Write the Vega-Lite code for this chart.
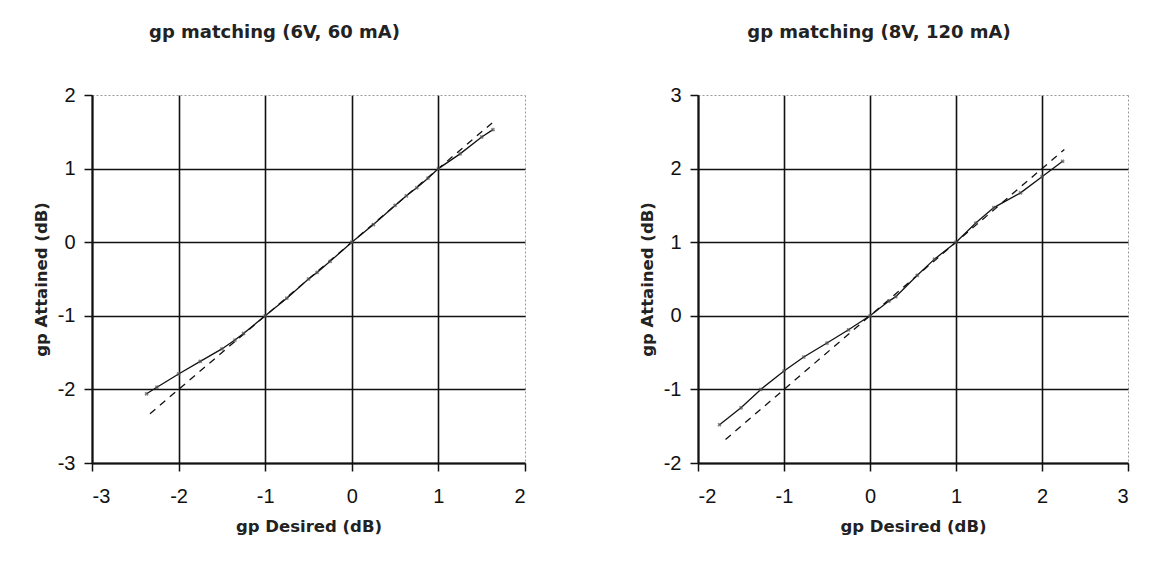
{
  "$schema": "https://vega.github.io/schema/vega-lite/v6.json",
  "padding": {"left": 33, "top": 24, "right": 5, "bottom": 5},
  "background": "white",
  "spacing": 173,
  "bounds": "flush",
  "config": {
    "view": {"stroke": null},
    "axis": {
      "labelFont": "Liberation Sans", "labelFontSize": 20, "labelColor": "#111",
      "labelExpr": "datum.value + ''",
      "titleFont": "DejaVu Sans", "titleFontSize": 16.5, "titleFontWeight": "bold", "titleColor": "#222",
      "domainColor": "#111", "domainWidth": 2, "tickColor": "#111", "tickWidth": 1.5, "tickSize": 8
    },
    "axisX": {"labelPadding": 15, "titlePadding": 12},
    "axisY": {"labelPadding": 9, "titlePadding": 8},
    "title": {"font": "DejaVu Sans", "fontSize": 18, "fontWeight": "bold", "color": "#222", "frame": "group", "anchor": "middle", "dx": -34, "offset": 43, "baseline": "alphabetic"}
  },
  "datasets": {
    "ideal6": [{"desired": -2.33, "attained": -2.33}, {"desired": 1.65, "attained": 1.65}],
    "meas6": [
      {"desired": -2.37, "attained": -2.06}, {"desired": -2.25, "attained": -1.97}, {"desired": -2.0, "attained": -1.79},
      {"desired": -1.75, "attained": -1.62}, {"desired": -1.5, "attained": -1.45}, {"desired": -1.35, "attained": -1.33},
      {"desired": -1.25, "attained": -1.24}, {"desired": -1.0, "attained": -1.0}, {"desired": -0.75, "attained": -0.76},
      {"desired": -0.5, "attained": -0.5}, {"desired": -0.4, "attained": -0.41}, {"desired": -0.25, "attained": -0.26},
      {"desired": 0.0, "attained": 0.0}, {"desired": 0.25, "attained": 0.24}, {"desired": 0.5, "attained": 0.5},
      {"desired": 0.63, "attained": 0.63}, {"desired": 0.75, "attained": 0.74}, {"desired": 0.88, "attained": 0.87},
      {"desired": 1.0, "attained": 1.0}, {"desired": 1.25, "attained": 1.2}, {"desired": 1.5, "attained": 1.43},
      {"desired": 1.63, "attained": 1.53}
    ],
    "ideal8": [{"desired": -1.68, "attained": -1.68}, {"desired": 2.26, "attained": 2.26}],
    "meas8": [
      {"desired": -1.75, "attained": -1.48}, {"desired": -1.5, "attained": -1.25}, {"desired": -1.27, "attained": -1.0},
      {"desired": -1.0, "attained": -0.75}, {"desired": -0.77, "attained": -0.56}, {"desired": -0.5, "attained": -0.37},
      {"desired": -0.25, "attained": -0.19}, {"desired": 0.0, "attained": 0.0}, {"desired": 0.22, "attained": 0.2},
      {"desired": 0.3, "attained": 0.26}, {"desired": 0.55, "attained": 0.55}, {"desired": 0.75, "attained": 0.77},
      {"desired": 1.0, "attained": 1.0}, {"desired": 1.23, "attained": 1.26}, {"desired": 1.44, "attained": 1.47},
      {"desired": 1.75, "attained": 1.67}, {"desired": 2.0, "attained": 1.89}, {"desired": 2.24, "attained": 2.1}
    ]
  },
  "hconcat": [
    {
      "width": 433, "height": 368,
      "title": {"text": "gp matching (6V, 60 mA)"},
      "layer": [
        {
          "data": {"name": "ideal6"},
          "mark": {"type": "line", "color": "#111", "strokeWidth": 1.3, "strokeDash": [7, 6]},
          "encoding": {
            "x": {"field": "desired", "type": "quantitative", "scale": {"domain": [-3, 2], "nice": false, "zero": false},
              "axis": {"title": "gp Desired (dB)", "values": [-3, -2, -1, 0, 1, 2], "grid": true,
                "gridColor": {"condition": {"test": "datum.value == 2", "value": "#999"}, "value": "#111"},
                "gridDash": {"condition": {"test": "datum.value == 2", "value": [2, 2]}, "value": []},
                "gridWidth": {"condition": {"test": "datum.value == 2", "value": 1}, "value": 1.6}}},
            "y": {"field": "attained", "type": "quantitative", "scale": {"domain": [-3, 2], "nice": false, "zero": false},
              "axis": {"title": "gp Attained (dB)", "values": [-3, -2, -1, 0, 1, 2], "grid": true,
                "gridColor": {"condition": {"test": "datum.value == 2", "value": "#999"}, "value": "#111"},
                "gridDash": {"condition": {"test": "datum.value == 2", "value": [2, 2]}, "value": []},
                "gridWidth": {"condition": {"test": "datum.value == 2", "value": 1}, "value": 1.6}}}
          }
        },
        {
          "data": {"name": "meas6"},
          "mark": {"type": "line", "color": "#111", "strokeWidth": 1.3},
          "encoding": {
            "x": {"field": "desired", "type": "quantitative"},
            "y": {"field": "attained", "type": "quantitative"}
          }
        },
        {
          "data": {"name": "meas6"},
          "mark": {"type": "point", "shape": "cross", "angle": 45, "size": 18, "color": "#555", "filled": true},
          "encoding": {
            "x": {"field": "desired", "type": "quantitative"},
            "y": {"field": "attained", "type": "quantitative"}
          }
        }
      ]
    },
    {
      "width": 430, "height": 368,
      "title": {"text": "gp matching (8V, 120 mA)"},
      "layer": [
        {
          "data": {"name": "ideal8"},
          "mark": {"type": "line", "color": "#111", "strokeWidth": 1.3, "strokeDash": [7, 6]},
          "encoding": {
            "x": {"field": "desired", "type": "quantitative", "scale": {"domain": [-2, 3], "nice": false, "zero": false},
              "axis": {"title": "gp Desired (dB)", "values": [-2, -1, 0, 1, 2, 3], "grid": true,
                "gridColor": {"condition": {"test": "datum.value == 3", "value": "#999"}, "value": "#111"},
                "gridDash": {"condition": {"test": "datum.value == 3", "value": [2, 2]}, "value": []},
                "gridWidth": {"condition": {"test": "datum.value == 3", "value": 1}, "value": 1.6}}},
            "y": {"field": "attained", "type": "quantitative", "scale": {"domain": [-2, 3], "nice": false, "zero": false},
              "axis": {"title": "gp Attained (dB)", "values": [-2, -1, 0, 1, 2, 3], "grid": true,
                "gridColor": {"condition": {"test": "datum.value == 3", "value": "#999"}, "value": "#111"},
                "gridDash": {"condition": {"test": "datum.value == 3", "value": [2, 2]}, "value": []},
                "gridWidth": {"condition": {"test": "datum.value == 3", "value": 1}, "value": 1.6}}}
          }
        },
        {
          "data": {"name": "meas8"},
          "mark": {"type": "line", "color": "#111", "strokeWidth": 1.3},
          "encoding": {
            "x": {"field": "desired", "type": "quantitative"},
            "y": {"field": "attained", "type": "quantitative"}
          }
        },
        {
          "data": {"name": "meas8"},
          "mark": {"type": "point", "shape": "cross", "angle": 45, "size": 18, "color": "#555", "filled": true},
          "encoding": {
            "x": {"field": "desired", "type": "quantitative"},
            "y": {"field": "attained", "type": "quantitative"}
          }
        }
      ]
    }
  ]
}
